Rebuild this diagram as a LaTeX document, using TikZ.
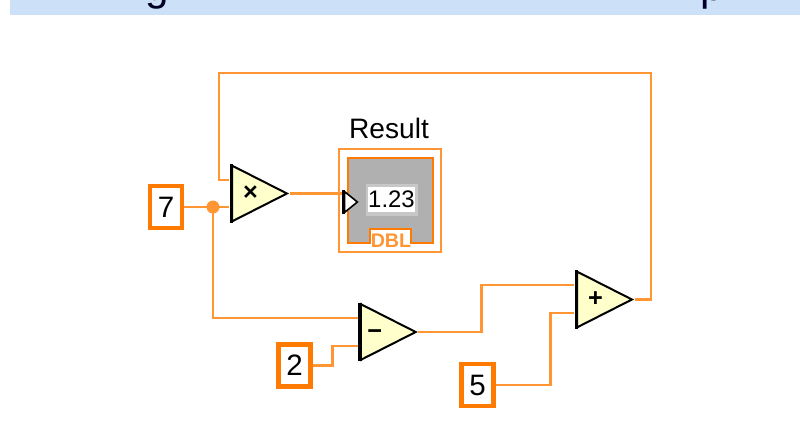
\documentclass[tikz,border=0pt]{standalone}
\usepackage{fontspec}
\setmainfont{Liberation Sans}
\usetikzlibrary{shapes.geometric}
\definecolor{wireorange}{HTML}{FF9633}
\definecolor{termorange}{HTML}{FF7A00}
\definecolor{funcyellow}{HTML}{FFFFCC}
\definecolor{bannerblue}{HTML}{CCE0F8}
\definecolor{indgray}{HTML}{B0B0B0}
\tikzset{
    wire/.style={draw=wireorange,line width=0.065cm},
    constbox/.style={draw=termorange,line width=0.11cm,fill=white,minimum width=0.8cm,minimum height=1.05cm,inner sep=0pt,font=\fontsize{21}{21}\selectfont},
    func/.style={isosceles triangle,isosceles triangle stretches,draw=black,line width=0.05cm,fill=funcyellow,minimum width=1.39cm,minimum height=1.37cm,inner sep=0pt,text height=1em,text depth=0pt,font=\fontsize{18}{18}\selectfont\bfseries},
    bannertext/.style={text=black!85!blue,font=\fontsize{30}{30}\selectfont},
}
\begin{document}
\begin{tikzpicture}[x=0.025cm,y=-0.025cm]
    \useasboundingbox (0,0) rectangle (800,423);
    \fill[bannerblue] (10,0) rectangle (800,15);
    \begin{scope}
        \clip (10,0) rectangle (800,15);
        \node[bannertext] (topg) at (157,-6) {g};
        \node[bannertext] (topc) at (355,-6) {,};
        \node[bannertext] (topp) at (712,-6) {p};
    \end{scope}

    \node[constbox] (seven) at (166,207) {7};
    \node[constbox] (two) at (294.5,365.5) {2};
    \node[constbox] (five) at (477.5,385) {5};

    \node[func] (mul) at (248.5,193.5) {\kern3pt×};
    \node[func] (sub) at (377.5,332) {−\kern4pt};
    \node[func] (add) at (593.5,299.5) {\kern3pt+};

    \node[draw=wireorange,line width=0.065cm,fill=white,minimum width=2.55cm,minimum height=2.57cm] (indout) at (390,200.5) {};
    \node[draw=termorange,line width=0.065cm,fill=indgray,minimum width=2.12cm,minimum height=2.12cm] (indin) at (390.5,200.5) {};
    \node[fill=black!22,minimum width=1.3cm,minimum height=0.8cm] (numshade) at (391.5,199.5) {};
    \node[fill=white,minimum width=1.15cm,minimum height=0.62cm,inner sep=0pt,font=\fontsize{17}{17}\selectfont] (num) at (391.5,199.5) {1.23};
    \fill[white] (371,229) rectangle (410,246);
    \draw[draw=termorange,line width=0.065cm] (370,244) |- (411,229) -- (411,244);
    \node[text=wireorange,font=\fontsize{14}{14}\selectfont\bfseries,inner sep=0pt] (dbl) at (391,241) {DBL};
    \node[isosceles triangle,isosceles triangle stretches,draw=black,line width=0.04cm,fill=white,minimum width=0.52cm,minimum height=0.32cm,inner sep=0pt] (term) at (349.5,202) {};
    \node[font=\fontsize{20}{20}\selectfont] (result) at (389,128) {Result};

    \fill[wireorange] (213,207) circle (6.5) coordinate (dot);

    \coordinate (mula) at (229,180);
    \coordinate (mulb) at (229,207);
    \coordinate (suba) at (358,318);
    \coordinate (subb) at (358,346);
    \coordinate (adda) at (574,285);
    \coordinate (addb) at (574,313);
    \coordinate (topr) at (651,73);
    \coordinate (topl) at (219,73);

    \draw[wire] (seven.east) -- (mulb);
    \draw[wire] (dot) |- (suba);
    \draw[wire] (mul.apex) -- (mul.apex -| term.left corner);
    \draw[wire] (add.apex) -| (topr) -- (topl) |- (mula);
    \draw[wire] (two.east) -- ++(20,0) |- (subb);
    \draw[wire] (sub.apex) -- ++(63,0) |- (adda);
    \draw[wire] (five.east) -- ++(55,0) |- (addb);

    \draw[line width=0.08cm] (mul.left corner) -- (mul.right corner);
    \draw[line width=0.08cm] (sub.left corner) -- (sub.right corner);
    \draw[line width=0.08cm] (add.left corner) -- (add.right corner);
    \draw[line width=0.08cm] (term.left corner) -- (term.right corner);
\end{tikzpicture}
\end{document}
